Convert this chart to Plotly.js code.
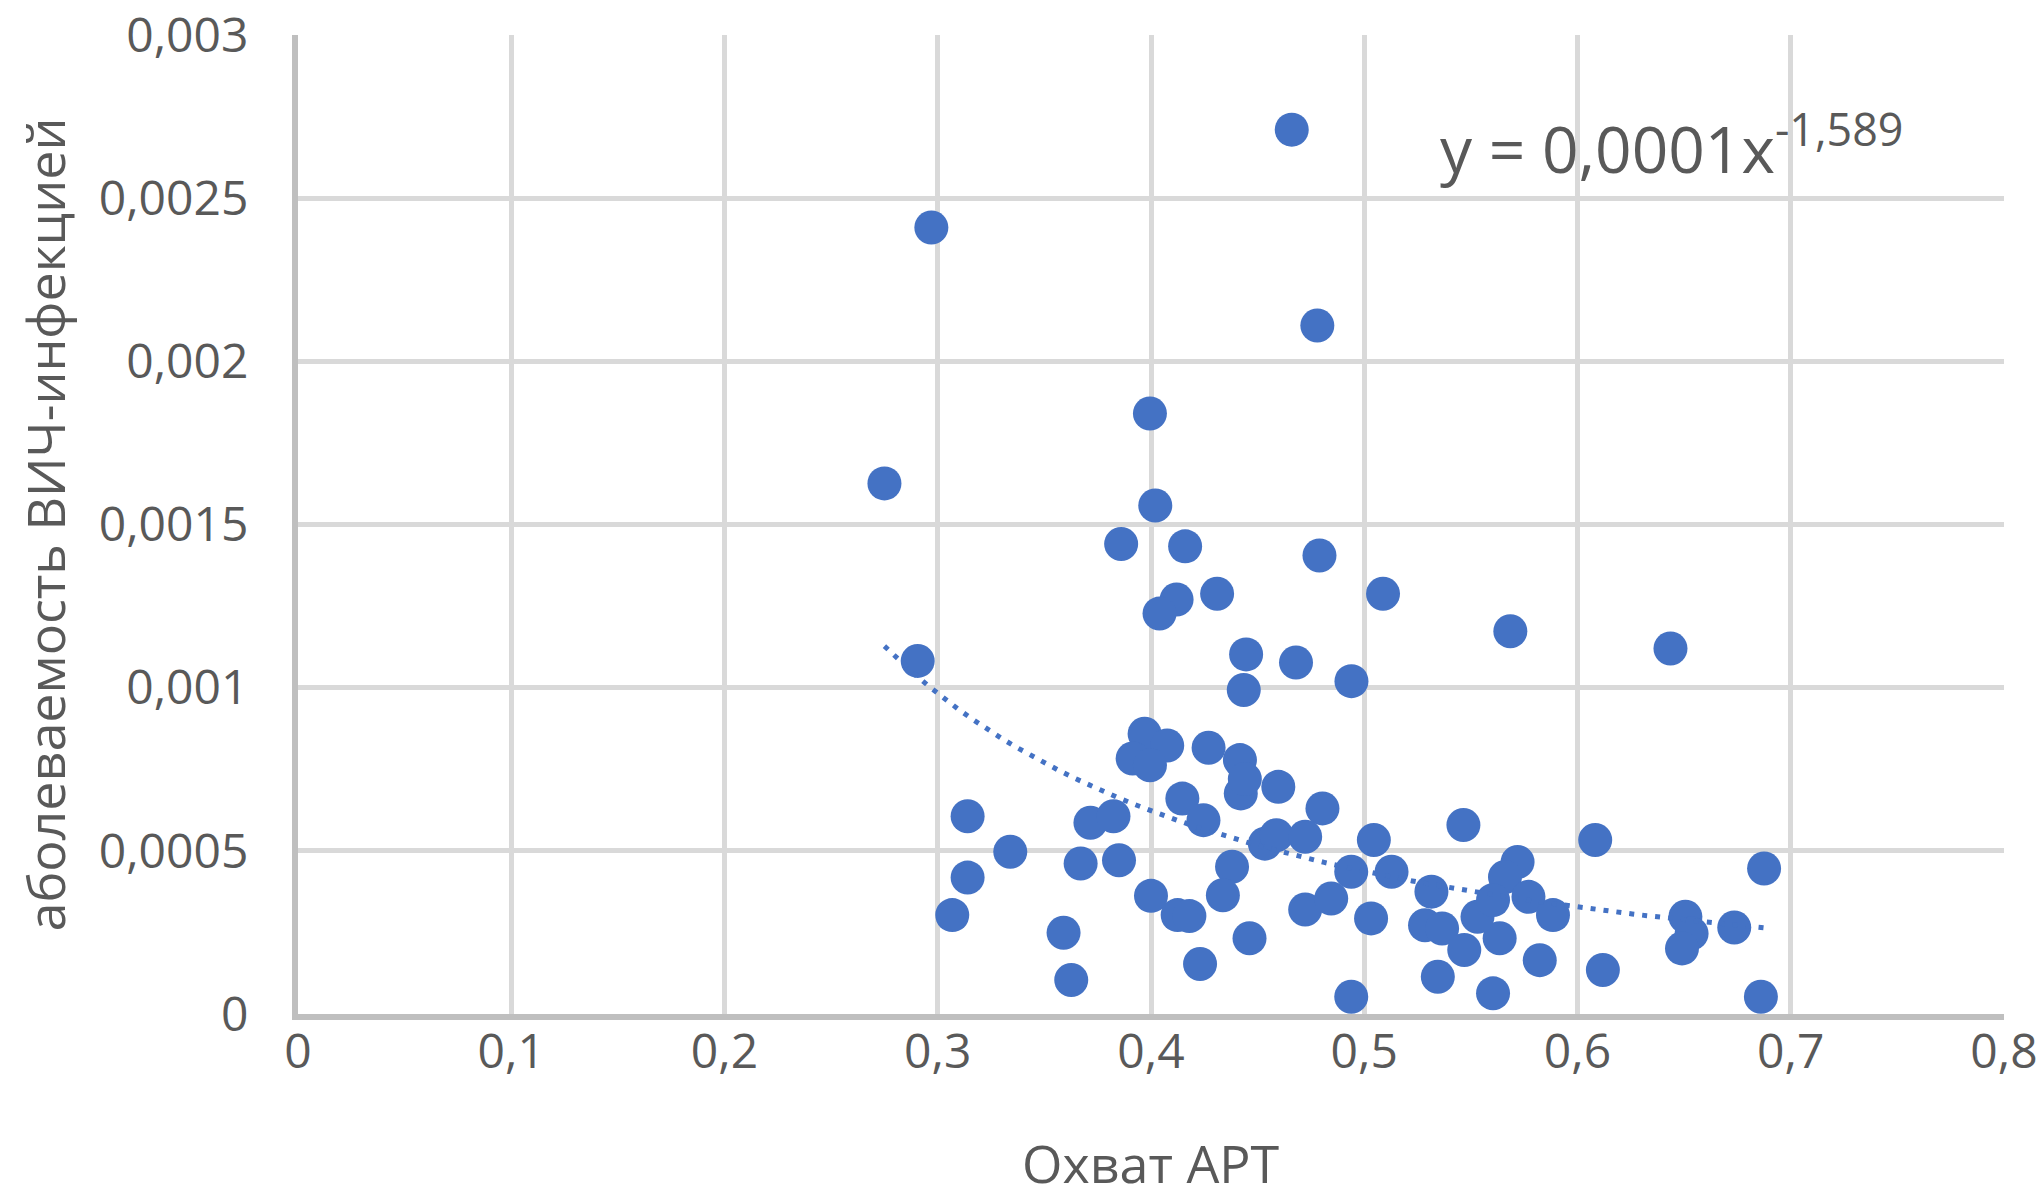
<!DOCTYPE html>
<html>
<head>
<meta charset="utf-8">
<script src="https://cdn.plot.ly/plotly-3.0.1.min.js"></script>
<style>html,body{margin:0;padding:0;background:#fff;}#chart{width:2044px;height:1197px;}</style>
</head>
<body>
<div id="chart"></div>
<script>
// ART coverage (x) vs HIV incidence (y)
var artCoverage = [
  0.466, 0.297, 0.478, 0.3995, 0.275, 0.402, 0.386, 0.416, 0.479, 0.412,
  0.404, 0.431, 0.5088, 0.5685, 0.6436, 0.2906, 0.4446, 0.468, 0.4435, 0.494,
  0.397, 0.4076, 0.3914, 0.3995, 0.427, 0.4417, 0.4421, 0.4597, 0.444, 0.4804,
  0.4147, 0.4246, 0.314, 0.3716, 0.3824, 0.4534, 0.4588, 0.4723, 0.5045, 0.334,
  0.314, 0.3068, 0.367, 0.385, 0.438, 0.4337, 0.400, 0.4125, 0.418, 0.4939,
  0.5128, 0.4723, 0.4845, 0.5032, 0.4462, 0.359, 0.3626, 0.423, 0.4939, 0.5315,
  0.5285, 0.5345, 0.5465, 0.6083, 0.6875, 0.5719, 0.566, 0.577, 0.5885, 0.5365,
  0.5469, 0.5635, 0.5531, 0.5604, 0.5823, 0.5604, 0.6119, 0.6506, 0.6535, 0.649,
  0.6735, 0.686
];
var hivIncidence = [
  0.00271, 0.00241, 0.00211, 0.00184, 0.001626, 0.001558, 0.00144, 0.001433, 0.001405, 0.00127,
  0.001227, 0.001288, 0.001288, 0.001173, 0.00112, 0.001082, 0.001102, 0.001077, 0.000993, 0.00102,
  0.000859, 0.000823, 0.000783, 0.000762, 0.000816, 0.000778, 0.000676, 0.000696, 0.00072, 0.00063,
  0.00066, 0.000594, 0.000606, 0.000586, 0.000606, 0.000522, 0.000548, 0.000543, 0.000533, 0.000497,
  0.000418, 0.000303, 0.000461, 0.000471, 0.000451, 0.000364, 0.000362, 0.000303, 0.0003, 0.000436,
  0.000436, 0.00032, 0.000354, 0.000293, 0.000232, 0.000249, 0.000104, 0.000153, 0.000053, 0.000375,
  0.000272, 0.000114, 0.000579, 0.000533, 0.000446, 0.000466, 0.00042, 0.000359, 0.000303, 0.000262,
  0.000196, 0.000232, 0.000298, 0.000349, 0.000165, 0.0000633, 0.000135, 0.000298, 0.000247, 0.000201,
  0.000265, 0.000053
];
var xTickVals = [0, 0.1, 0.2, 0.3, 0.4, 0.5, 0.6, 0.7, 0.8];
var xTickLabels = ["0", "0,1", "0,2", "0,3", "0,4", "0,5", "0,6", "0,7", "0,8"];
var yTickVals = [0, 0.0005, 0.001, 0.0015, 0.002, 0.0025, 0.003];
var yTickLabels = ["0", "0,0005", "0,001", "0,0015", "0,002", "0,0025", "0,003"];
var xTitle = "Охват АРТ";
var yTitle = "аболеваемость ВИЧ-инфекцией";
var equationText = "y = 0,0001x<sup>-1,589</sup>";

// Power trendline: least squares in log-log space (as a spreadsheet does)
var n = artCoverage.length, sx = 0, sy = 0, sxx = 0, sxy = 0;
for (var i = 0; i < n; i++) {
  var lx = Math.log(artCoverage[i]), ly = Math.log(hivIncidence[i]);
  sx += lx; sy += ly; sxx += lx * lx; sxy += lx * ly;
}
var b = (n * sxy - sx * sy) / (n * sxx - sx * sx);
var a = Math.exp((sy - b * sx) / n);
var xMin = Math.min.apply(null, artCoverage), xMax = Math.max.apply(null, artCoverage);
var trendX = [], trendY = [];
for (var k = 0; k <= 60; k++) {
  var xv = xMin + (xMax - xMin) * k / 60;
  trendX.push(xv); trendY.push(a * Math.pow(xv, b));
}

var blue = "#4472C4", textCol = "#595959";
var traces = [
  {x: artCoverage, y: hivIncidence, type: "scatter", mode: "markers",
   marker: {color: blue, size: 34, line: {width: 0}}, hoverinfo: "skip"},
  {x: trendX, y: trendY, type: "scatter", mode: "lines",
   line: {color: blue, width: 5, dash: "5px,8px"}, hoverinfo: "skip"}
];
var fontFam = "Open Sans, sans-serif";
var layout = {
  width: 2044, height: 1197,
  margin: {l: 298, r: 40, t: 35, b: 183},
  paper_bgcolor: "#ffffff", plot_bgcolor: "#ffffff",
  showlegend: false, hovermode: false,
  font: {family: fontFam, color: textCol, size: 48},
  xaxis: {range: [0, 0.8], tickvals: xTickVals, ticktext: xTickLabels,
    showgrid: true, gridcolor: "#d9d9d9", gridwidth: 5,
    showline: true, linecolor: "#bfbfbf", linewidth: 6, zeroline: false,
    ticks: "", ticklabelstandoff: -10, tickfont: {size: 48, color: textCol}},
  yaxis: {range: [0, 0.003], tickvals: yTickVals, ticktext: yTickLabels,
    showgrid: true, gridcolor: "#d9d9d9", gridwidth: 5,
    showline: true, linecolor: "#bfbfbf", linewidth: 6, zeroline: false,
    ticks: "", ticklabelstandoff: 34, tickfont: {size: 48, color: textCol}},
  annotations: [
    {text: xTitle, xref: "paper", yref: "paper", x: 0.5, y: 0, xanchor: "center", yanchor: "middle",
     yshift: -148, showarrow: false, font: {size: 52, color: textCol}},
    {text: yTitle, xref: "paper", yref: "paper", x: 0, y: 0.5, xanchor: "center", yanchor: "middle",
     xshift: -254, textangle: -90, showarrow: false, font: {size: 52, color: textCol}},
    {text: equationText, xref: "paper", yref: "paper", x: 0.668, y: 0.938, xanchor: "left", yanchor: "top",
     showarrow: false, font: {size: 64, color: textCol}}
  ]
};
Plotly.newPlot("chart", traces, layout, {staticPlot: true, displayModeBar: false});
</script>
</body>
</html>
